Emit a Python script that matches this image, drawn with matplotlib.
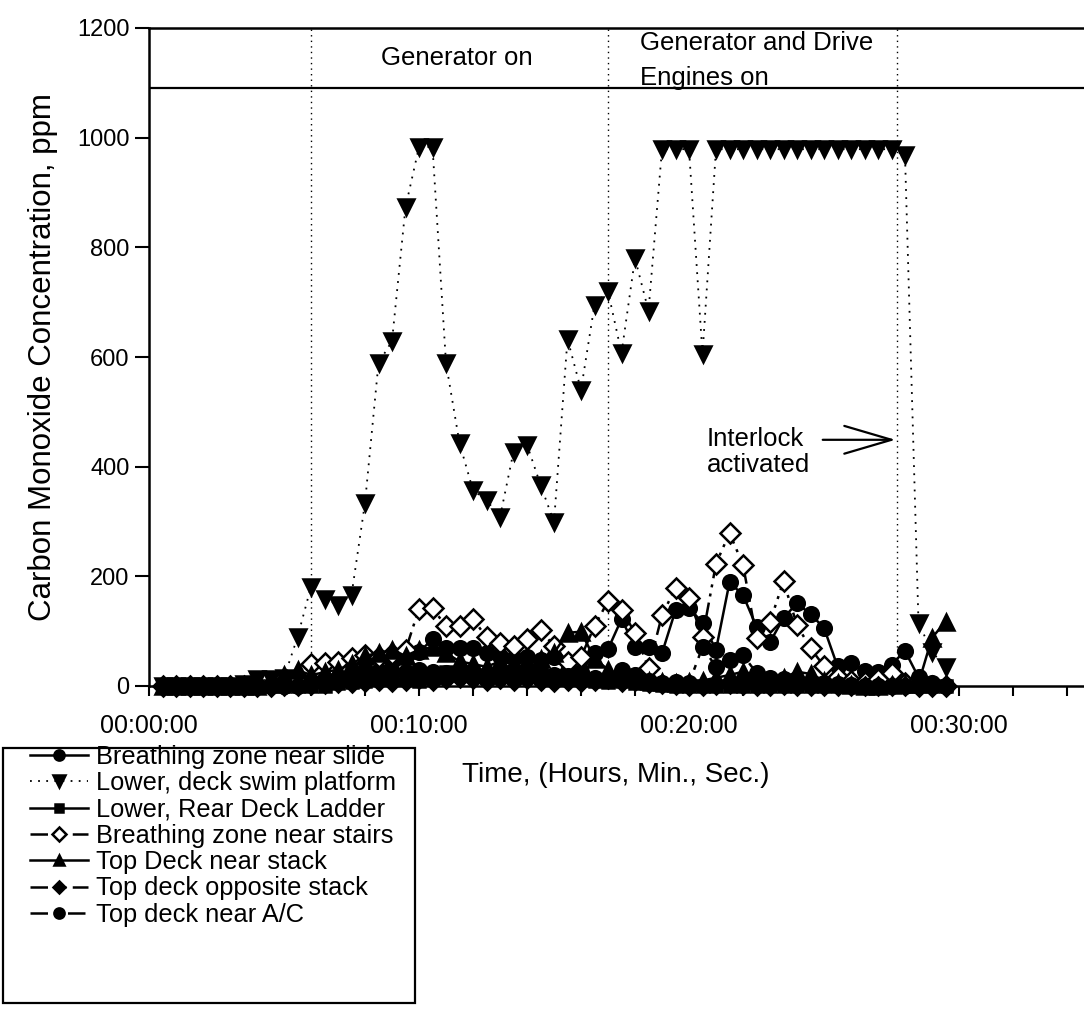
import numpy as np
import matplotlib
matplotlib.use("Agg")
import matplotlib.pyplot as plt
from matplotlib.ticker import MultipleLocator, FuncFormatter
from matplotlib.patches import Rectangle

plt.rcParams['font.family'] = ['Liberation Sans', 'DejaVu Sans']

# time in minutes, one reading every 30 s (00:00:30 ... 00:29:30)
time_min = [0.5, 1.0, 1.5, 2.0, 2.5, 3.0, 3.5, 4.0, 4.5, 5.0,
            5.5, 6.0, 6.5, 7.0, 7.5, 8.0, 8.5, 9.0, 9.5, 10.0,
            10.5, 11.0, 11.5, 12.0, 12.5, 13.0, 13.5, 14.0, 14.5, 15.0,
            15.5, 16.0, 16.5, 17.0, 17.5, 18.0, 18.5, 19.0, 19.5, 20.0,
            20.5, 21.0, 21.5, 22.0, 22.5, 23.0, 23.5, 24.0, 24.5, 25.0,
            25.5, 26.0, 26.5, 27.0, 27.5, 28.0, 28.5, 29.0, 29.5]

slide = [0, 0, 0, 0, 0, 0, 0, 0, 0, 0,
         5, 10, 12, 15, 22, 30, 28, 45, 55, 62,
         85, 69, 69, 69, 60, 55, 51, 53, 48, 52,
         28, 25, 60, 67, 122, 72, 72, 60, 138, 143,
         115, 66, 189, 166, 108, 80, 124, 151, 131, 106,
         36, 42, 28, 26, 39, 64, 16, 5, 0]

swim = [0, 0, 0, 0, 0, 0, 3, 12, 12, 15,
        89, 181, 159, 148, 166, 334, 589, 629, 873, 983,
        983, 589, 443, 357, 339, 308, 427, 440, 367, 299,
        633, 540, 695, 720, 607, 780, 684, 979, 979, 979,
        605, 979, 979, 979, 979, 979, 979, 979, 979, 979,
        979, 979, 979, 979, 979, 968, 115, 62, 35]

ladder = [0, 0, 0, 0, 0, 0, 0, 0, 0, 0,
          0, 0, 0, 5, 8, 10, 12, 15, 12, 10,
          20, 25, 22, 25, 20, 22, 25, 20, 22, 18,
          15, 12, 10, 8, 10, 5, 3, 2, 0, 0,
          0, 0, 0, 0, 0, 0, 0, 0, 0, 0,
          0, 0, 0, 0, 0, 0, 0, 0, 0]

stairs = [0, 0, 0, 0, 0, 0, 0, 0, 0, 5,
          15, 40, 42, 44, 51, 57, 53, 58, 65, 141,
          142, 109, 109, 122, 89, 78, 73, 86, 102, 73,
          44, 53, 109, 155, 139, 97, 33, 129, 179, 160,
          89, 223, 279, 221, 88, 117, 191, 111, 69, 36,
          16, 10, 8, 12, 24, 5, 0, 0, 0]

stack = [0, 0, 0, 0, 0, 0, 0, 0, 5, 20,
         29, 20, 25, 30, 40, 55, 60, 66, 55, 66,
         71, 60, 45, 40, 35, 45, 40, 45, 50, 60,
         97, 99, 50, 30, 20, 15, 10, 8, 5, 8,
         10, 15, 20, 26, 20, 10, 15, 26, 22, 10,
         5, 2, 0, 0, 2, 3, 5, 88, 117]

opposite = [0, 0, 0, 0, 0, 0, 0, 0, 0, 0,
            0, 2, 3, 5, 5, 8, 10, 8, 10, 12,
            10, 12, 15, 12, 10, 12, 10, 12, 10, 8,
            10, 8, 10, 12, 8, 10, 5, 3, 2, 0,
            0, 2, 3, 2, 0, 0, 2, 0, 0, 0,
            0, 0, 0, 0, 0, 0, 0, 0, 0]

ac = [0, 0, 0, 0, 0, 0, 0, 0, 0, 0,
      0, 5, 8, 10, 15, 20, 22, 25, 25, 30,
      26, 24, 25, 22, 20, 25, 30, 25, 22, 20,
      18, 20, 15, 12, 30, 20, 10, 5, 8, 5,
      71, 35, 47, 56, 24, 15, 12, 10, 5, 5,
      3, 2, 0, 0, 0, 0, 0, 0, 0]

series_labels = ["Breathing zone near slide", "Lower, deck swim platform",
                 "Lower, Rear Deck Ladder", "Breathing zone near stairs",
                 "Top Deck near stack", "Top deck opposite stack",
                 "Top deck near A/C"]

event_times = [6.0, 17.0, 27.7]
y_ticks = [0, 200, 400, 600, 800, 1000, 1200]

W, H = 1084, 1010
fig = plt.figure(figsize=(W / 100, H / 100), dpi=100)
ax_left, ax_bottom = 149 / W, 1 - 686 / H
ax = fig.add_axes([ax_left, ax_bottom, 1 - ax_left, (686 - 28) / H])

t = np.array(time_min)
dashdotdot = (0, (7, 2.5, 1.2, 2.5, 1.2, 2.5))
dashdot = (0, (7, 3, 2, 3))
styles = [
    dict(data=slide, marker='o', ls='-', mfc='k', ms=10.5),
    dict(data=swim, marker='v', ls=(0, (1, 3.5)), mfc='k', ms=12),
    dict(data=ladder, marker='s', ls='-', mfc='k', ms=8),
    dict(data=stairs, marker='D', ls=dashdotdot, mfc='white', ms=10),
    dict(data=stack, marker='^', ls='-', mfc='k', ms=11),
    dict(data=opposite, marker='D', ls=dashdotdot, mfc='k', ms=9),
    dict(data=ac, marker='o', ls=dashdot, mfc='k', ms=10.5),
]
order = [6, 5, 4, 2, 0, 3, 1]
handles = [None] * 7
for i in order:
    s = styles[i]
    lw = 1.3 if i == 1 else 1.8
    ln, = ax.plot(t, s['data'], color='k', lw=lw, ls=s['ls'], marker=s['marker'],
                  ms=s['ms'], mfc=s['mfc'], mec='k', mew=1.8, clip_on=False,
                  zorder=3 + i * 0.1)
    handles[i] = ln

for et in event_times:
    ax.axvline(et, color='k', lw=1.0, ls=(0, (1, 3)), zorder=2)
ax.axhline(1090, color='k', lw=1.6, zorder=2)

ax.set_xlim(0, (W - 149) / 27.0)
ax.set_ylim(0, 1200)
ax.set_yticks(y_ticks)
ax.xaxis.set_major_locator(MultipleLocator(2))
ax.xaxis.set_major_formatter(FuncFormatter(
    lambda v, p: "00:%02d:00" % int(round(v)) if int(round(v)) % 10 == 0 else ""))
ax.tick_params(axis='both', direction='out', width=1.5, colors='k')
ax.tick_params(axis='x', length=7, pad=13, labelsize=18)
ax.tick_params(axis='y', length=10, pad=4, labelsize=17)
ax.spines['right'].set_visible(False)
for side in ['left', 'bottom', 'top']:
    ax.spines[side].set_linewidth(1.8)

ax.set_ylabel("Carbon Monoxide Concentration, ppm", fontsize=22.5, labelpad=14)

ax.text(11.4, 1145, "Generator on", fontsize=18.5, ha='center', va='center')
ax.text(18.2, 1172, "Generator and Drive", fontsize=18.5, ha='left', va='center')
ax.text(18.2, 1109, "Engines on", fontsize=18.5, ha='left', va='center')
ax.text(20.66, 426, "Interlock\nactivated", fontsize=18.5, ha='left', va='center',
        linespacing=1.1)
ax.annotate("", xy=(27.75, 449), xytext=(24.85, 449),
            arrowprops=dict(arrowstyle='->,head_length=1.7,head_width=0.5',
                            color='k', lw=1.6, mutation_scale=20))

fig.text(462 / W, 1 - 775 / H, "Time, (Hours, Min., Sec.)", fontsize=20,
         ha='left', va='center')

# legend
fig.patches.append(Rectangle((3 / W, 1 - 1003 / H), (415 - 3) / W, (1003 - 748) / H,
                             transform=fig.transFigure, fill=False, ec='k', lw=1.6))
leg = fig.legend(handles, series_labels, loc='upper left',
                 bbox_to_anchor=(30 / W, 1 - 745 / H), frameon=False, fontsize=18.3,
                 handlelength=2.3, handletextpad=0.3, labelspacing=0.09,
                 borderaxespad=0, borderpad=0, markerscale=0.7)

fig.savefig("out.png", dpi=100)
